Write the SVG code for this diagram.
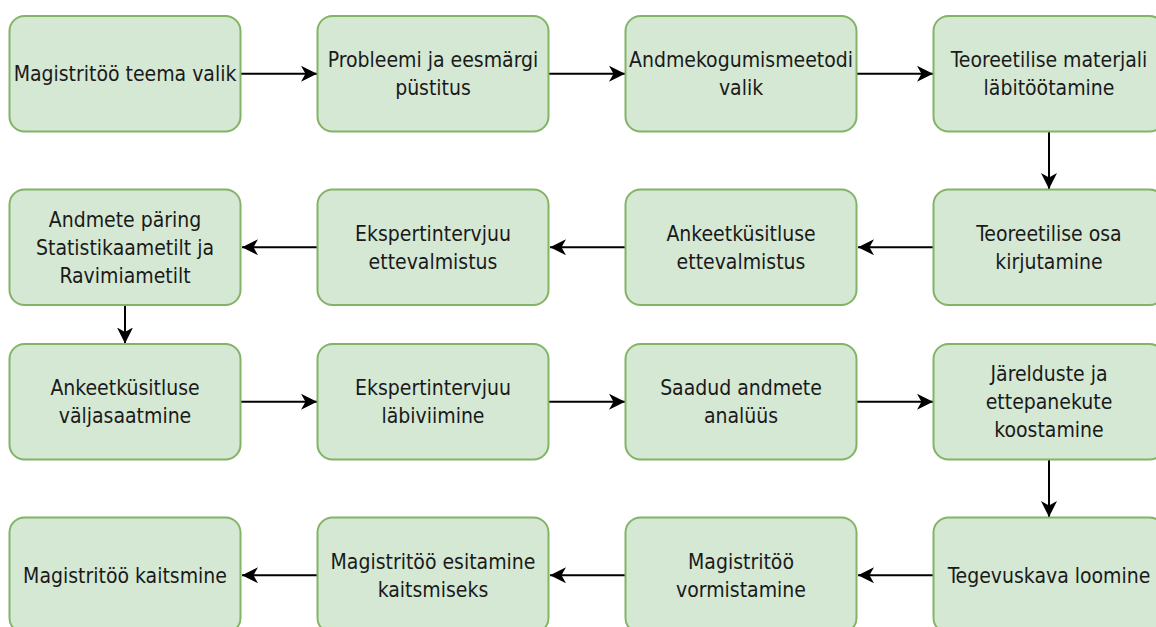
<svg xmlns="http://www.w3.org/2000/svg" width="1156" height="627" viewBox="0 0 1156 627">
<defs>
<style>
.box{fill:#d5e8d4;stroke:#82b366;stroke-width:2}
.lbl{font-family:"DejaVu Sans Condensed","DejaVu Sans",Verdana,sans-serif;font-size:21px;fill:#1a1a1a;text-anchor:middle}
.con{stroke:#000;stroke-width:2;fill:none;marker-end:url(#arr)}
</style>
<marker id="arr" markerUnits="userSpaceOnUse" viewBox="0 0 17 17" markerWidth="17" markerHeight="17" refX="16" refY="8.5" orient="auto">
<path d="M0,0.5 L16,8.5 L0,16.5 L4.5,8.5 Z" fill="#000"/>
</marker>
</defs>
<rect width="1156" height="627" fill="#fff"/>
<g id="connectors">
<line class="con" x1="241" y1="73.75" x2="317" y2="73.75"/>
<line class="con" x1="549" y1="73.75" x2="625" y2="73.75"/>
<line class="con" x1="857" y1="73.75" x2="933" y2="73.75"/>
<line class="con" x1="1049" y1="131.5" x2="1049" y2="189"/>
<line class="con" x1="933.5" y1="247.25" x2="858" y2="247.25"/>
<line class="con" x1="625.5" y1="247.25" x2="550" y2="247.25"/>
<line class="con" x1="317.5" y1="247.25" x2="242" y2="247.25"/>
<line class="con" x1="125" y1="305" x2="125" y2="343.5"/>
<line class="con" x1="241" y1="401.75" x2="317" y2="401.75"/>
<line class="con" x1="549" y1="401.75" x2="625" y2="401.75"/>
<line class="con" x1="857" y1="401.75" x2="933" y2="401.75"/>
<line class="con" x1="1049" y1="459.5" x2="1049" y2="517"/>
<line class="con" x1="933.5" y1="575.25" x2="858" y2="575.25"/>
<line class="con" x1="625.5" y1="575.25" x2="550" y2="575.25"/>
<line class="con" x1="317.5" y1="575.25" x2="242" y2="575.25"/>
</g>
<g id="n1"><rect class="box" x="9.5" y="16" width="231" height="115.5" rx="15"/><text class="lbl" x="125" y="81">Magistritöö teema valik</text></g>
<g id="n2"><rect class="box" x="317.5" y="16" width="231" height="115.5" rx="15"/><text class="lbl" x="433" y="67">Probleemi ja eesmärgi</text><text class="lbl" x="433" y="95">püstitus</text></g>
<g id="n3"><rect class="box" x="625.5" y="16" width="231" height="115.5" rx="15"/><text class="lbl" x="741" y="67">Andmekogumismeetodi</text><text class="lbl" x="741" y="95">valik</text></g>
<g id="n4"><rect class="box" x="933.5" y="16" width="231" height="115.5" rx="15"/><text class="lbl" x="1049" y="67">Teoreetilise materjali</text><text class="lbl" x="1049" y="95">läbitöötamine</text></g>
<g id="n5"><rect class="box" x="933.5" y="189.5" width="231" height="115.5" rx="15"/><text class="lbl" x="1049" y="240.5">Teoreetilise osa</text><text class="lbl" x="1049" y="268.5">kirjutamine</text></g>
<g id="n6"><rect class="box" x="625.5" y="189.5" width="231" height="115.5" rx="15"/><text class="lbl" x="741" y="240.5">Ankeetküsitluse</text><text class="lbl" x="741" y="268.5">ettevalmistus</text></g>
<g id="n7"><rect class="box" x="317.5" y="189.5" width="231" height="115.5" rx="15"/><text class="lbl" x="433" y="240.5">Ekspertintervjuu</text><text class="lbl" x="433" y="268.5">ettevalmistus</text></g>
<g id="n8"><rect class="box" x="9.5" y="189.5" width="231" height="115.5" rx="15"/><text class="lbl" x="125" y="226.5">Andmete päring</text><text class="lbl" x="125" y="254.5">Statistikaametilt ja</text><text class="lbl" x="125" y="282.5">Ravimiametilt</text></g>
<g id="n9"><rect class="box" x="9.5" y="344" width="231" height="115.5" rx="15"/><text class="lbl" x="125" y="395">Ankeetküsitluse</text><text class="lbl" x="125" y="423">väljasaatmine</text></g>
<g id="n10"><rect class="box" x="317.5" y="344" width="231" height="115.5" rx="15"/><text class="lbl" x="433" y="395">Ekspertintervjuu</text><text class="lbl" x="433" y="423">läbiviimine</text></g>
<g id="n11"><rect class="box" x="625.5" y="344" width="231" height="115.5" rx="15"/><text class="lbl" x="741" y="395">Saadud andmete</text><text class="lbl" x="741" y="423">analüüs</text></g>
<g id="n12"><rect class="box" x="933.5" y="344" width="231" height="115.5" rx="15"/><text class="lbl" x="1049" y="381">Järelduste ja</text><text class="lbl" x="1049" y="409">ettepanekute</text><text class="lbl" x="1049" y="437">koostamine</text></g>
<g id="n13"><rect class="box" x="933.5" y="517.5" width="231" height="115.5" rx="15"/><text class="lbl" x="1049" y="582.5">Tegevuskava loomine</text></g>
<g id="n14"><rect class="box" x="625.5" y="517.5" width="231" height="115.5" rx="15"/><text class="lbl" x="741" y="568.5">Magistritöö</text><text class="lbl" x="741" y="596.5">vormistamine</text></g>
<g id="n15"><rect class="box" x="317.5" y="517.5" width="231" height="115.5" rx="15"/><text class="lbl" x="433" y="568.5">Magistritöö esitamine</text><text class="lbl" x="433" y="596.5">kaitsmiseks</text></g>
<g id="n16"><rect class="box" x="9.5" y="517.5" width="231" height="115.5" rx="15"/><text class="lbl" x="125" y="582.5">Magistritöö kaitsmine</text></g>
</svg>
